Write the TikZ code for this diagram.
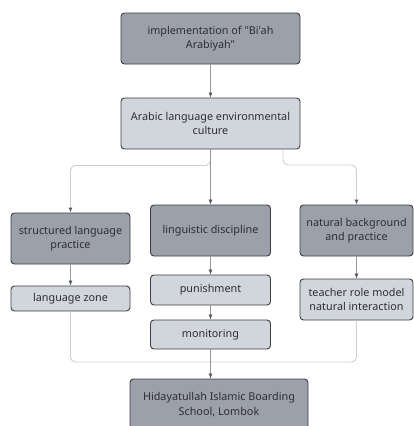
\documentclass[tikz,border=0pt]{standalone}
\usepackage{fontspec}
\newfontfamily\nf{Noto Sans}
\usetikzlibrary{arrows.meta}
\definecolor{darkfill}{RGB}{155,160,170}
\definecolor{lightfill}{RGB}{209,213,220}
\definecolor{boxline}{RGB}{60,62,66}
\definecolor{txt}{RGB}{45,47,50}
\definecolor{conn}{RGB}{150,152,158}
\definecolor{branch}{RGB}{205,207,210}
\definecolor{tipc}{RGB}{85,88,95}
\tikzset{
  base/.style={draw=boxline, line width=0.9pt, rounded corners=3.5pt, align=center,
    text=txt, font=\nf\fontsize{10.8}{14.3}\selectfont, inner sep=0pt},
  darkbox/.style={base, fill=darkfill},
  lightbox/.style={base, fill=lightfill},
  arr/.style={draw=conn, line width=0.7pt, -{Latex[length=5pt,width=4pt,color=tipc]}},
  br/.style={draw=branch, line width=0.9pt, rounded corners=5pt},
  brarr/.style={br, -{Latex[length=5pt,width=4pt,color=tipc]}},
}
\begin{document}
\begin{tikzpicture}[x=1pt,y=-1pt]
\path[use as bounding box, fill=white] (0,0) rectangle (414,426);
\clip (0,0) rectangle (414,426);
\node[darkbox, minimum width=179pt, minimum height=51pt] (impl) at (210.5,38.5) {implementation of "Bi'ah\\Arabiyah"};
\node[lightbox, minimum width=179pt, minimum height=51pt] (culture) at (210.5,123.5) {Arabic language environmental\\culture};
\node[darkbox, minimum width=119pt, minimum height=51pt] (struct) at (70.5,238.5) {structured language\\practice};
\node[lightbox, minimum width=119pt, minimum height=25pt] (zone) at (70.5,298.5) {language zone};
\node[darkbox, minimum width=120pt, minimum height=51pt] (ling) at (210.5,230.5) {linguistic discipline};
\node[lightbox, minimum width=120pt, minimum height=30pt] (pun) at (210.5,290) {punishment};
\node[lightbox, minimum width=120pt, minimum height=29pt] (mon) at (210.5,334.5) {monitoring};
\node[darkbox, minimum width=113pt, minimum height=51pt] (nat) at (356.5,230.5) {natural background\\and practice};
\node[lightbox, minimum width=113pt, minimum height=41pt] (teach) at (356.5,299.5) {teacher role model\\natural interaction};
\node[darkbox, minimum width=178pt, minimum height=51pt] (school) at (219,404.5) {Hidayatullah Islamic Boarding\\School, Lombok};
\coordinate (join) at (210.5,362);
% branches
\draw[brarr] (culture.south) -- ++(0,16) -| (struct.north);
\draw[brarr] (culture.south -| 283,0) -- (283,165) -| (nat.north);
\draw[br] (zone.south) |- (join);
\draw[br] (teach.south) |- (join);
% direct connectors
\draw[arr] (impl.south) -- (culture.north);
\draw[arr] (culture.south) -- (ling.north);
\draw[arr] (struct.south) -- (zone.north);
\draw[arr] (ling.south) -- (pun.north);
\draw[arr] (pun.south) -- (mon.north);
\draw[arr] (nat.south) -- (teach.north);
\draw[arr] (mon.south) -- (school.north -| mon.south);
\end{tikzpicture}
\end{document}
